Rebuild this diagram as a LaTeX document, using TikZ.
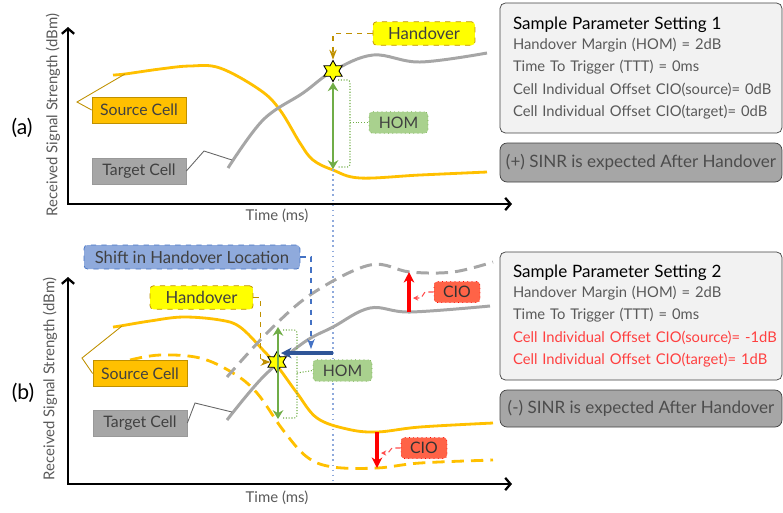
\documentclass[tikz,border=0pt]{standalone}
\usepackage{fontspec}
\setmainfont{Lato}
\usetikzlibrary{arrows.meta,shapes.geometric}
\definecolor{srcyellow}{HTML}{FFC000}
\definecolor{srcdark}{HTML}{BF9000}
\definecolor{tgtgray}{HTML}{A6A6A6}
\definecolor{homgreen}{HTML}{70AD47}
\definecolor{homfill}{HTML}{A9D18E}
\definecolor{hoyellow}{HTML}{FFFF00}
\definecolor{shiftfill}{HTML}{8FAADC}
\definecolor{shiftline}{HTML}{4472C4}
\definecolor{darkblue}{HTML}{2F5597}
\definecolor{ciofill}{HTML}{FF6347}
\definecolor{cioline}{HTML}{FF0000}
\definecolor{boxgray}{HTML}{F2F2F2}
\definecolor{txtgray}{HTML}{595959}
\definecolor{redtxt}{HTML}{FF4040}

\begin{document}
\begin{tikzpicture}[x=0.02cm,y=-0.02cm,>=Stealth,
  axis/.style={line width=1.3pt,{Straight Barb[length=3pt,width=7pt]}-{Straight Barb[length=3pt,width=7pt]}},
  axlbl/.style={font=\fontsize{8.5}{10}\selectfont,text=txtgray},
  cellbox/.style={draw,minimum width=1.88cm,minimum height=0.52cm,inner sep=0pt,
    font=\fontsize{9}{10}\selectfont,text=black!75},
  srccurve/.style={srcyellow,line width=1.6pt},
  tgtcurve/.style={tgtgray,line width=1.7pt},
  hobox/.style={draw=srcdark,dashed,fill=hoyellow,rounded corners=2pt,minimum height=0.47cm,
    inner sep=0pt,font=\fontsize{9.5}{10}\selectfont,text=black!75},
  homark/.style={star,star points=6,star point ratio=1.75,minimum size=0.42cm,inner sep=0pt,
    fill=hoyellow,draw=black,line width=0.5pt},
  hombox/.style={draw=homgreen,dotted,fill=homfill,rounded corners=2pt,minimum width=1.18cm,
    minimum height=0.43cm,inner sep=0pt,font=\fontsize{9}{10}\selectfont,text=black!75},
  homarr/.style={homgreen,line width=1.6pt,{Stealth[length=5pt,width=6pt]}-{Stealth[length=5pt,width=6pt]}},
  brace/.style={homgreen,densely dotted,line width=0.6pt,rounded corners=1.5pt},
  ciobox/.style={draw=cioline,dotted,fill=ciofill,rounded corners=2pt,minimum width=0.92cm,
    minimum height=0.42cm,inner sep=0pt,font=\fontsize{9}{10}\selectfont,text=black!80},
  cioarr/.style={cioline,line width=1.8pt,-{Stealth[length=6pt,width=6pt]}},
  cioptr/.style={cioline!70,densely dashed,line width=0.6pt,-{Stealth[length=3pt,width=3pt]}},
  parbox/.style={draw=black!75,fill=boxgray,rounded corners=3pt,minimum width=5.64cm,
    text width=5.12cm,inner xsep=0.26cm,align=left,font=\fontsize{8.4}{12.8}\selectfont,text=txtgray},
  sinrbox/.style={draw=black!75,fill=tgtgray,rounded corners=4pt,minimum width=5.64cm,
    inner sep=0pt,font=\fontsize{9.7}{12}\selectfont,text=black!70}]
\useasboundingbox (0,0) rectangle (783,512);

% ---------- panel (a)
\draw[axis] (68,27) -- (68,204) -- (512,204);
\node[axlbl,rotate=90] (ylbla) at (53,115) {Received Signal Strength (dBm)};
\node[axlbl] (xlbla) at (277,216) {Time (ms)};
\node[font=\fontsize{12}{14}\selectfont] (taga) at (22,128) {(a)};

\draw[srccurve] plot[smooth,tension=0.6] coordinates {(113,75) (125,74) (160,69) (190,66) (220,68)
  (260,90) (280,110) (300,143) (313,160) (333,170) (360,178) (420,175) (487,172)};
\draw[tgtcurve] plot[smooth,tension=0.6] coordinates {(228,168) (263,120) (303,93) (333,71)
  (373,55) (420,62) (487,53)};
\coordinate (srcpa) at (125,74);
\coordinate (tgtpa) at (232,160);
\coordinate (bota) at (333,169);

\node[cellbox,fill=srcyellow,draw=srcdark] (srca) at (139,110) {Source Cell};
\node[cellbox,fill=tgtgray,draw=black!40] (tgta) at (139,171) {Target Cell};
\draw[srcdark,line width=0.5pt] (srca.west) -- (77,102) -- (srcpa);
\draw[black!60,line width=0.5pt] (tgta.east) -- (204,151) -- (tgtpa);

\node[homark] (stara) at (333,71) {};
\node[hobox,minimum width=2.04cm] (hoa) at (424,33.5) {Handover};
\draw[srcdark,dashed,line width=0.6pt,->] (hoa.west) -| (stara.north);

\draw[homarr] (stara.south) -- (bota);
\node[hombox] (homa) at (398.5,122.5) {HOM};
\draw[brace] (338,80) -- (350,80) -- (350,167) -- (338,167);
\draw[brace] (350,122.5) -- (homa.west);

\node[parbox,minimum height=2.6cm] (para) at (641,68)
  {{\fontsize{9.7}{12}\selectfont\color{black}Sample Parameter Setting 1}\\[-1.5pt]
   \mbox{Handover Margin (HOM) = 2dB}\\
   \mbox{Time To Trigger (TTT) = 0ms}\\
   \mbox{Cell Individual Offset CIO(source)= 0dB}\\
   \mbox{Cell Individual Offset CIO(target)= 0dB}};
\node[sinrbox,minimum height=0.78cm] (sinra) at (641,162.5) {(+) SINR is expected After Handover};

% ---------- panel (b)
\draw[axis] (68,277) -- (68,484) -- (512,484);
\node[axlbl,rotate=90] (ylblb) at (50,379) {Received Signal Strength (dBm)};
\node[axlbl] (xlblb) at (277,498) {Time (ms)};
\node[font=\fontsize{12}{14}\selectfont] (tagb) at (23,393) {(b)};

\draw[shiftfill,dotted,line width=0.9pt] (bota) -- (333,484);

\draw[srccurve] plot[smooth,tension=0.6] coordinates {(113,327) (120,326) (150,321) (183,317) (220,320)
  (240,327) (263,350) (278,367) (297,393) (317,418) (347,429) (377,432) (420,427) (493,423)};
\draw[srccurve,dash pattern=on 7pt off 4pt] plot[smooth,tension=0.6] coordinates {(130,360) (160,355)
  (200,358) (233,373) (257,393) (283,430) (307,457) (333,467) (377,468) (420,463) (493,460)};
\draw[tgtcurve] plot[smooth,tension=0.6] coordinates {(227,420) (263,377) (303,343) (333,327)
  (370,308) (410,312) (490,306)};
\draw[tgtcurve,dash pattern=on 7pt off 4pt] plot[smooth,tension=0.6] coordinates {(227,377) (270,330)
  (313,293) (370,265) (410,272) (453,272) (493,262)};
\coordinate (srcpb) at (122,326);
\coordinate (tgtpb) at (232,412);

\node[cellbox,fill=srcyellow,draw=srcdark] (srcb) at (140,373.5) {Source Cell};
\node[cellbox,fill=tgtgray,draw=black!40] (tgtb) at (140,423) {Target Cell};
\draw[srcdark,line width=0.5pt] (srcb.west) -- (82,358) -- (srcpb);
\draw[black!60,line width=0.5pt] (tgtb.east) -- (195,403) -- (tgtpb);

% handover point and margin
\node[homark] (starb) at (277,362) {};
\node[hobox,minimum width=2.06cm] (hob) at (201.5,297.5) {Handover};
\draw[srcdark,dashed,line width=0.6pt,->] (hob.east) -- ++(7,0) |- (starb.west);
\coordinate (homtopb) at (278,327);
\coordinate (hombotb) at (278,419);
\draw[homarr] (homtopb) -- (hombotb);
\node[hombox] (homb) at (342.5,370.5) {HOM};
\draw[brace] (283,330) -- (297,330) -- (297,418) -- (283,418);
\draw[brace] (297,373) -- (homb.west);

% shift of the handover location
\coordinate (shiftst) at (333,353);
\coordinate (shiftend) at (281,353);
\draw[darkblue,line width=1.8pt,-{Stealth[length=6pt,width=6pt]}] (shiftst) -- (shiftend);
\node[draw=shiftline,dashed,fill=shiftfill,rounded corners=2pt,minimum width=4.32cm,minimum height=0.48cm,
  inner sep=0pt,font=\fontsize{9.5}{10}\selectfont,text=black!75] (shift) at (192,257) {Shift in Handover Location};
\draw[shiftline,dashed,line width=0.6pt,->] (shift.east) -| (311,349);

% cell individual offsets
\coordinate (ciotgt1) at (409,312);
\coordinate (ciotgt2) at (409,272);
\coordinate (ciosrc1) at (377,432);
\coordinate (ciosrc2) at (377,468);
\draw[cioarr] (ciotgt1) -- (ciotgt2);
\draw[cioarr] (ciosrc1) -- (ciosrc2);
\node[ciobox] (cioa) at (457,292) {CIO};
\node[ciobox] (ciob) at (424,448) {CIO};
\draw[cioptr] (cioa.west) -- (425,292) -- (421,298) -- (413,298);
\draw[cioptr] (ciob.west) -- (392,448) -- (388,453) -- (381,453);

\node[parbox,minimum height=2.56cm] (parb) at (641,316)
  {{\fontsize{9.7}{12}\selectfont\color{black}Sample Parameter Setting 2}\\[-1.5pt]
   \mbox{Handover Margin (HOM) = 2dB}\\
   \mbox{Time To Trigger (TTT) = 0ms}\\
   \mbox{\color{redtxt}Cell Individual Offset CIO(source)= -1dB}\\
   \mbox{\color{redtxt}Cell Individual Offset CIO(target)= 1dB}};
\node[sinrbox,minimum height=0.74cm] (sinrb) at (641,408.5) {(-) SINR is expected After Handover};
\end{tikzpicture}
\end{document}
